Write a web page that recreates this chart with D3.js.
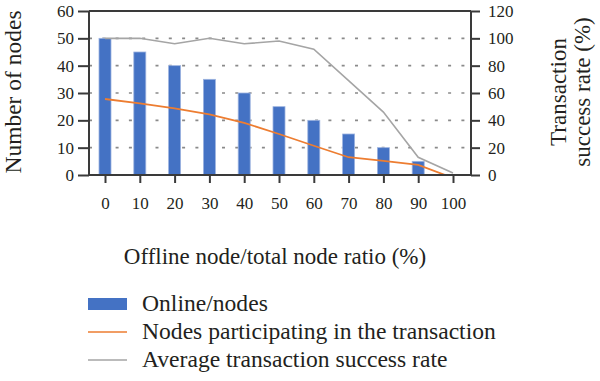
<!DOCTYPE html>
<html><head><meta charset="utf-8">
<script src="https://cdn.jsdelivr.net/npm/d3@7"></script>
<style>
body{margin:0;background:#fff;}
text{font-family:"Liberation Serif","DejaVu Serif",serif;fill:#231f20;}
</style></head>
<body><svg id="c" width="600" height="381"></svg>
<script>
const categories = [0,10,20,30,40,50,60,70,80,90,100];
const onlineNodes = [50,45,40,35,30,25,20,15,10,5,0];
const participatingNodes = [27.8,26.2,24.4,22.2,19.1,15,10.7,6.5,5.2,3.7,-1.1];
const successRate = [100,100,96,100,96,98,92,69,46,13,1.5];
const leftTicks = [0,10,20,30,40,50,60];
const rightTicks = [0,20,40,60,80,100,120];
const gridTicks = [10,20,30,40,50];
const legendLabels = ["Online/nodes","Nodes participating in the transaction","Average transaction success rate"];

const svg = d3.select("#c");
const L = 89, R = 471, T = 11, B = 175;
const x = d3.scalePoint().domain(categories).range([105, 453]);
const yL = d3.scaleLinear().domain([0,60]).range([B,T]);
const yR = d3.scaleLinear().domain([0,120]).range([B,T]);
const axisColor = "#3a3a3a";

svg.append("defs").append("clipPath").attr("id","clip")
  .append("rect").attr("x",L).attr("y",T).attr("width",R-L).attr("height",B-T);

// gridlines
svg.append("g").selectAll("line").data(gridTicks).join("line")
  .attr("x1",L).attr("x2",R).attr("y1",d=>yL(d)).attr("y2",d=>yL(d))
  .attr("stroke","#8a8a8a").attr("stroke-width",1.6).attr("stroke-dasharray","3 10.3");

// bars
const bw = 12;
svg.append("g").selectAll("rect").data(categories).join("rect")
  .attr("x",(d)=>x(d)-bw/2).attr("width",bw)
  .attr("y",(d,i)=>yL(onlineNodes[i])).attr("height",(d,i)=>B-yL(onlineNodes[i]))
  .attr("fill","#4472C4").attr("stroke","#9db3e0").attr("stroke-width",0.8);

// lines
const g = svg.append("g").attr("clip-path","url(#clip)");
g.append("path").datum(categories)
  .attr("d", d3.line().x(d=>x(d)).y((d,i)=>yR(successRate[i])))
  .attr("fill","none").attr("stroke","#A5A5A5").attr("stroke-width",1.6);
g.append("path").datum(categories)
  .attr("d", d3.line().x(d=>x(d)).y((d,i)=>yL(participatingNodes[i])))
  .attr("fill","none").attr("stroke","#ED7D31").attr("stroke-width",1.8);

// axes
const ax = svg.append("g").attr("stroke",axisColor).attr("stroke-width",2);
ax.append("line").attr("x1",L).attr("x2",R).attr("y1",T).attr("y2",T);
ax.append("line").attr("x1",L).attr("x2",R).attr("y1",B).attr("y2",B);
ax.append("line").attr("x1",L).attr("x2",L).attr("y1",T).attr("y2",B+1);
ax.append("line").attr("x1",R).attr("x2",R).attr("y1",T).attr("y2",B+1);

const leftAxis = svg.append("g").attr("transform",`translate(${L},0)`)
  .call(d3.axisLeft(yL).tickValues(leftTicks).tickSize(11).tickPadding(4));
const rightAxis = svg.append("g").attr("transform",`translate(${R},0)`)
  .call(d3.axisRight(yR).tickValues(rightTicks).tickSize(9).tickPadding(8));
const bottomAxis = svg.append("g").attr("transform",`translate(0,${B})`)
  .call(d3.axisBottom(x).tickValues(categories).tickSize(8).tickPadding(14));
[leftAxis,rightAxis,bottomAxis].forEach(a=>{
  a.select(".domain").remove();
  a.selectAll(".tick line").attr("stroke",axisColor).attr("stroke-width",2);
  a.selectAll(".tick text").attr("font-size",17).attr("font-family","Liberation Serif").attr("fill","#231f20");
});

// titles
svg.append("text").attr("transform","translate(21,92) rotate(-90)")
  .attr("text-anchor","middle").attr("font-size",23.5).text("Number of nodes");
svg.append("text").attr("transform","translate(566,92) rotate(-90)")
  .attr("text-anchor","middle").attr("font-size",23).text("Transaction");
svg.append("text").attr("transform","translate(590,92) rotate(-90)")
  .attr("text-anchor","middle").attr("font-size",23).text("success rate (%)");
svg.append("text").attr("x",275).attr("y",264)
  .attr("text-anchor","middle").attr("font-size",23).text("Offline node/total node ratio (%)");

// legend
const lg = svg.append("g");
const rowY = [304,332,360];
lg.append("rect").attr("x",88).attr("y",rowY[0]-6).attr("width",39).attr("height",12).attr("fill","#4472C4");
lg.append("line").attr("x1",88).attr("x2",127).attr("y1",rowY[1]).attr("y2",rowY[1]).attr("stroke","#ED7D31").attr("stroke-width",1.5);
lg.append("line").attr("x1",88).attr("x2",127).attr("y1",rowY[2]).attr("y2",rowY[2]).attr("stroke","#A5A5A5").attr("stroke-width",1.5);
lg.selectAll("text").data(legendLabels).join("text")
  .attr("x",142).attr("y",(d,i)=>rowY[i]+7).attr("font-size",23.6).text(d=>d);
</script></body></html>
